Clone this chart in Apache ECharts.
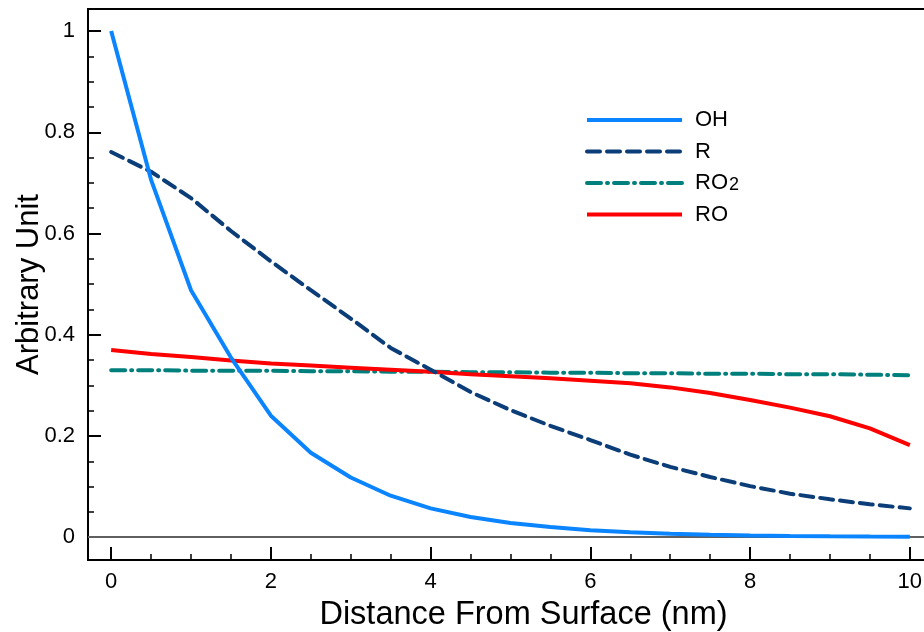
<!DOCTYPE html>
<html>
<head>
<meta charset="utf-8">
<script src="https://cdn.jsdelivr.net/npm/echarts@6/dist/echarts.min.js"></script>
<style>html,body{margin:0;padding:0;background:#fff}#c{width:924px;height:632px}</style>
</head>
<body>
<div id="c"></div>
<script>
const distance = [0,0.5,1,1.5,2,2.5,3,3.5,4,4.5,5,5.5,6,6.5,7,7.5,8,8.5,9,9.5,10];
const OH  = [1.0,0.706,0.488,0.355,0.240,0.167,0.118,0.082,0.057,0.040,0.028,0.020,0.014,0.010,0.007,0.005,0.0035,0.0025,0.0018,0.0013,0.001];
const R   = [0.761,0.722,0.670,0.605,0.545,0.488,0.432,0.374,0.331,0.287,0.251,0.220,0.192,0.163,0.139,0.119,0.101,0.086,0.075,0.065,0.057];
const RO2 = [0.330,0.330,0.329,0.329,0.329,0.328,0.328,0.327,0.327,0.326,0.326,0.325,0.325,0.324,0.324,0.323,0.323,0.322,0.322,0.321,0.320];
const RO  = [0.370,0.362,0.356,0.349,0.343,0.339,0.335,0.331,0.327,0.322,0.318,0.314,0.309,0.304,0.296,0.285,0.271,0.256,0.239,0.215,0.182];
const xMajor = [0,2,4,6,8,10];
const xMinor = [0.5,1,1.5,2.5,3,3.5,4.5,5,5.5,6.5,7,7.5,8.5,9,9.5];
const yMajor = [0,0.2,0.4,0.6,0.8,1];
const yMinor = [0.05,0.1,0.15,0.25,0.3,0.35,0.45,0.5,0.55,0.65,0.7,0.75,0.85,0.9,0.95];

const FONT = "'Liberation Sans', Arial, Helvetica, sans-serif";
const pairs = ys => distance.map((x,i)=>[x, ys[i]]);
const chart = echarts.init(document.getElementById('c'), null, {renderer:'canvas'});
const XMIN = -0.29, XMAX = 10.29, YMIN = -0.045, YMAX = 1.0435;

chart.setOption({
  animation: false,
  backgroundColor: '#fff',
  grid: {left: 88, top: 9, bottom: 72, right: -9, show: true, borderColor: '#000', borderWidth: 2,
         containLabel: false, outerBoundsMode: 'none'},
  legend: {
    left: 585, top: 109, orient: 'vertical', padding: 0,
    itemWidth: 95, itemHeight: 14, itemGap: 9.5,
    itemStyle: {opacity: 0},
    lineStyle: {width: 4},
    data: ['OH','R','RO2','RO'],
    formatter: n => n === 'RO2' ? '{n|RO}{s|2}' : '{n|' + n + '}',
    textStyle: {
      fontFamily: FONT, fontSize: 22, color: '#000', padding: [0,0,0,8],
      rich: {
        n: {fontFamily: FONT, fontSize: 22, color: '#000', lineHeight: 22},
        s: {fontFamily: FONT, fontSize: 18, color: '#000', lineHeight: 10, verticalAlign: 'bottom', padding: [0,0,0,1]}
      }
    }
  },
  xAxis: [{
    type: 'value', min: XMIN, max: XMAX, position: 'bottom',
    name: 'Distance From Surface (nm)', nameLocation: 'middle', nameGap: 39, nameMoveOverlap: false,
    nameTextStyle: {fontFamily: FONT, fontSize: 32.5, color: '#000', padding: [0,0,0,26]},
    axisLine: {show: true, onZero: false, lineStyle: {color: '#000', width: 2}},
    axisTick: {show: true, inside: true, length: 13, customValues: xMajor, lineStyle: {color: '#000', width: 2}},
    axisLabel: {show: true, customValues: xMajor, margin: 11, fontFamily: FONT, fontSize: 22, color: '#000'},
    splitLine: {show: false}
  },{
    type: 'value', min: XMIN, max: XMAX, position: 'bottom',
    axisLine: {show: false, onZero: false},
    axisTick: {show: true, inside: true, length: 6, customValues: xMinor, lineStyle: {color: '#000', width: 1.5}},
    axisLabel: {show: false}, splitLine: {show: false}
  }],
  yAxis: [{
    type: 'value', min: YMIN, max: YMAX, position: 'left',
    name: 'Arbitrary Unit', nameLocation: 'middle', nameGap: 43, nameMoveOverlap: false,
    nameTextStyle: {fontFamily: FONT, fontSize: 31, color: '#000'},
    axisLine: {show: true, onZero: false, lineStyle: {color: '#000', width: 2}},
    axisTick: {show: true, inside: true, length: 13, customValues: yMajor, lineStyle: {color: '#000', width: 2}},
    axisLabel: {show: true, customValues: yMajor, margin: 13, fontFamily: FONT, fontSize: 22, color: '#000'},
    splitLine: {show: false}
  },{
    type: 'value', min: YMIN, max: YMAX, position: 'left',
    axisLine: {show: false, onZero: false},
    axisTick: {show: true, inside: true, length: 6, customValues: yMinor, lineStyle: {color: '#000', width: 1.5}},
    axisLabel: {show: false}, splitLine: {show: false}
  }],
  series: [
    {name: 'OH', type: 'line', data: pairs(OH), symbol: 'none', z: 5,
     lineStyle: {color: '#0a84ff', width: 4, type: 'solid'}, itemStyle: {color: '#0a84ff'},
     markLine: {silent: true, symbol: 'none', label: {show: false}, z: 1,
       lineStyle: {color: '#5f5f5f', width: 2, type: 'solid'}, data: [{yAxis: 0}]}},
    {name: 'R', type: 'line', data: pairs(R), symbol: 'none', z: 4,
     lineStyle: {color: '#0b3d78', width: 4, type: [13, 7], cap: 'round'}, itemStyle: {color: '#0b3d78'}},
    {name: 'RO2', type: 'line', data: pairs(RO2), symbol: 'none', z: 3,
     lineStyle: {color: '#00807c', width: 4, type: [14, 6, 1, 6], cap: 'round'}, itemStyle: {color: '#00807c'}},
    {name: 'RO', type: 'line', data: pairs(RO), symbol: 'none', z: 3,
     lineStyle: {color: '#ff0000', width: 4, type: 'solid'}, itemStyle: {color: '#ff0000'}}
  ]
});
</script>
</body>
</html>
